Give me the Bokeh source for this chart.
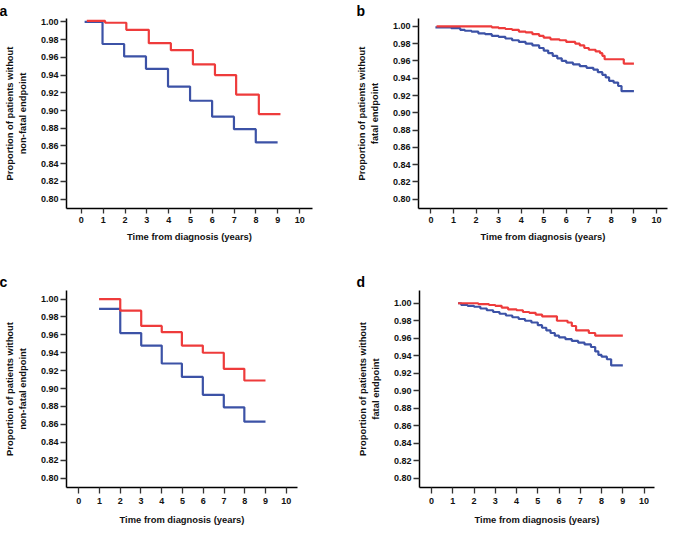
from bokeh.plotting import figure
from bokeh.layouts import column, row
from bokeh.models import Range1d, FixedTicker, NumeralTickFormatter, Title
from bokeh.embed import file_html
from bokeh.resources import INLINE

# ---------------- data ----------------
x_ticks = [0, 1, 2, 3, 4, 5, 6, 7, 8, 9, 10]
y_ticks = [0.80, 0.82, 0.84, 0.86, 0.88, 0.90, 0.92, 0.94, 0.96, 0.98, 1.00]

x_label = "Time from diagnosis (years)"
y_label_nonfatal = "Proportion of patients without\nnon-fatal endpoint"
y_label_fatal = "Proportion of patients without\nfatal endpoint"

# panel a (non-fatal endpoint)
a_red_t = [0.25, 1.09, 2.06, 3.09, 4.10, 5.11, 6.12, 7.09, 8.13, 9.12]
a_red_s = [1.001, 0.999, 0.991, 0.976, 0.968, 0.952, 0.940, 0.918, 0.896, 0.896]
a_blue_t = [0.15, 0.97, 1.96, 2.96, 3.97, 4.98, 5.99, 6.99, 7.99, 8.99]
a_blue_s = [1.000, 0.975, 0.961, 0.947, 0.927, 0.911, 0.893, 0.879, 0.864, 0.864]

# panel b (fatal endpoint)
b_red_t = [0.25, 2.7, 3.0, 3.3, 3.6, 3.9, 4.2, 4.5, 4.8, 5.0, 5.3, 5.7, 6.0, 6.4,
           6.6, 6.8, 7.0, 7.3, 7.5, 7.6, 7.7, 8.55, 9.0]
b_red_s = [1.000, 0.999, 0.998, 0.997, 0.996, 0.994, 0.993, 0.991, 0.989, 0.987,
           0.985, 0.984, 0.982, 0.980, 0.978, 0.975, 0.973, 0.971, 0.969, 0.966,
           0.962, 0.957, 0.957]
b_blue_t = [0.2, 0.9, 1.3, 1.5, 1.8, 2.1, 2.4, 2.7, 3.0, 3.3, 3.6, 3.9, 4.2, 4.5,
            4.8, 5.0, 5.2, 5.4, 5.6, 5.8, 6.0, 6.3, 6.6, 6.9, 7.2, 7.4, 7.6, 7.75,
            7.9, 8.1, 8.3, 8.45, 9.0]
b_blue_s = [0.999, 0.998, 0.996, 0.995, 0.994, 0.992, 0.991, 0.989, 0.988, 0.986,
            0.984, 0.982, 0.980, 0.978, 0.975, 0.972, 0.969, 0.966, 0.963, 0.960,
            0.958, 0.956, 0.954, 0.952, 0.950, 0.947, 0.944, 0.941, 0.937, 0.935,
            0.931, 0.925, 0.925]

# panel c (non-fatal endpoint)
c_red_t = [0.98, 2.00, 3.01, 4.00, 4.97, 5.98, 6.99, 7.98, 9.00]
c_red_s = [1.000, 0.987, 0.970, 0.963, 0.948, 0.940, 0.922, 0.909, 0.909]
c_blue_t = [0.98, 2.00, 3.01, 4.00, 4.97, 5.98, 6.99, 7.98, 9.00]
c_blue_s = [0.989, 0.962, 0.948, 0.928, 0.913, 0.893, 0.879, 0.863, 0.863]

# panel d (fatal endpoint)
d_red_t = [1.25, 2.2, 2.7, 3.0, 3.3, 3.6, 4.0, 4.3, 4.6, 4.9, 5.2, 5.9, 6.4, 6.6,
           6.8, 7.4, 7.7, 9.0]
d_red_s = [1.000, 0.999, 0.998, 0.997, 0.995, 0.993, 0.992, 0.990, 0.989, 0.987,
           0.985, 0.980, 0.978, 0.974, 0.969, 0.966, 0.963, 0.963]
d_blue_t = [1.25, 1.4, 1.7, 2.0, 2.3, 2.6, 2.9, 3.2, 3.5, 3.8, 4.1, 4.4, 4.7, 5.0,
            5.2, 5.4, 5.6, 5.8, 6.0, 6.3, 6.6, 6.9, 7.2, 7.5, 7.7, 7.85, 8.0, 8.25,
            8.45, 9.0]
d_blue_s = [1.000, 0.998, 0.997, 0.996, 0.994, 0.992, 0.990, 0.988, 0.986, 0.984,
            0.982, 0.980, 0.978, 0.975, 0.972, 0.969, 0.966, 0.963, 0.961, 0.959,
            0.957, 0.955, 0.953, 0.950, 0.945, 0.941, 0.939, 0.936, 0.929, 0.929]

RED = "#EE3B3B"
BLUE = "#3C52A6"
FONT = "Liberation Sans"


def make_panel(letter, ylabel, red_t, red_s, blue_t, blue_s, geo):
    p = figure(width=geo["w"], height=geo["h"], output_backend="svg",
               toolbar_location=None,
               x_range=Range1d(*geo["xr"]), y_range=Range1d(*geo["yr"]),
               min_border_left=geo["bl"], min_border_right=geo["br"],
               min_border_top=geo["bt"], min_border_bottom=geo["bb"])
    p.outline_line_color = None
    p.grid.visible = False
    p.background_fill_color = "white"
    p.border_fill_color = "white"

    p.step(blue_t, blue_s, mode="after", line_color=BLUE, line_width=2.2)
    p.step(red_t, red_s, mode="after", line_color=RED, line_width=2.2)

    for ax in (p.xaxis[0], p.yaxis[0]):
        ax.axis_line_color = "black"
        ax.axis_line_width = 1.5
        ax.major_tick_line_color = "#333333"
        ax.major_tick_line_width = 1.3
        ax.major_tick_in = 0
        ax.minor_tick_line_color = None
        ax.major_label_text_font = FONT
        ax.major_label_text_font_style = "bold"
        ax.major_label_text_font_size = "9px"
        ax.major_label_text_color = "#111111"
        ax.axis_label_text_font = FONT
        ax.axis_label_text_font_style = "bold"
        ax.axis_label_text_font_size = "9.4px"
        ax.axis_label_text_color = "#111111"

    xa = p.xaxis[0]
    xa.ticker = FixedTicker(ticks=x_ticks)
    xa.axis_label = x_label
    xa.major_tick_out = geo["tick"]
    xa.major_label_standoff = geo["lso"]
    xa.axis_label_standoff = geo["tso"]

    ya = p.yaxis[0]
    ya.ticker = FixedTicker(ticks=y_ticks)
    ya.formatter = NumeralTickFormatter(format="0.00")
    ya.axis_label = ylabel
    ya.major_tick_out = 6
    ya.major_label_standoff = 2
    ya.axis_label_standoff = 10

    t = Title(text=letter, align="left", offset=geo["loff"], standoff=geo["lstand"],
              text_font=FONT, text_font_style="bold", text_font_size="14px",
              text_color="black", text_line_height=0.8)
    p.add_layout(t, "above")
    return p


geo_a = dict(w=332, h=262, bl=60, br=20, bt=18, bb=54, xr=(-0.680, 10.588),
             yr=(0.78948, 1.00378), tick=5, lso=3, tso=5, loff=-67, lstand=0)
geo_b = dict(w=337, h=262, bl=86, br=2, bt=18, bb=54, xr=(-0.550, 10.488),
             yr=(0.78920, 1.00916), tick=5, lso=3, tso=5, loff=-62, lstand=0)
geo_c = dict(w=332, h=265, bl=60, br=35, bt=28, bb=39, xr=(-0.590, 10.542),
             yr=(0.78940, 1.00960), tick=6, lso=4, tso=7, loff=-67, lstand=2)
geo_d = dict(w=337, h=265, bl=87, br=15, bt=28, bb=39, xr=(-0.564, 10.489),
             yr=(0.78950, 1.01456), tick=6, lso=4, tso=7, loff=-63, lstand=2)

pa = make_panel("a", y_label_nonfatal, a_red_t, a_red_s, a_blue_t, a_blue_s, geo_a)
pb = make_panel("b", y_label_fatal, b_red_t, b_red_s, b_blue_t, b_blue_s, geo_b)
pc = make_panel("c", y_label_nonfatal, c_red_t, c_red_s, c_blue_t, c_blue_s, geo_c)
pd = make_panel("d", y_label_fatal, d_red_t, d_red_s, d_blue_t, d_blue_s, geo_d)

layout = column(row(pa, pb), row(pc, pd))

open("out.html", "w").write(file_html(layout, INLINE))
